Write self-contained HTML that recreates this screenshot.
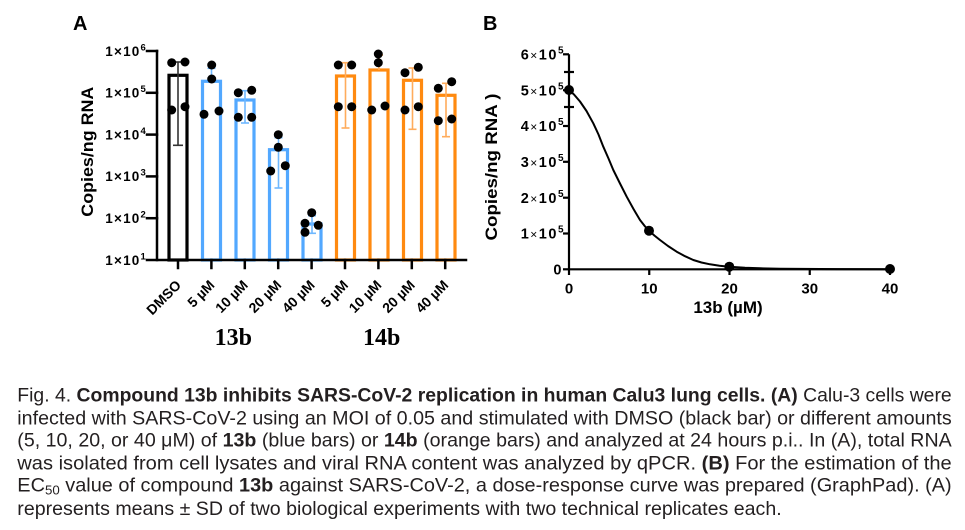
<!DOCTYPE html>
<html>
<head>
<meta charset="utf-8">
<style>
  html,body{margin:0;padding:0;background:#fff;}
  body{width:965px;height:530px;position:relative;overflow:hidden;}
  svg{position:absolute;left:0;top:0;}
</style>
</head>
<body>
<svg width="965" height="530" viewBox="0 0 965 530" xmlns="http://www.w3.org/2000/svg" font-family="Liberation Sans, Arial, sans-serif">
  <!-- Panel labels -->
  <text x="73" y="30" font-size="20" font-weight="bold" fill="#000">A</text>
  <text x="483" y="30" font-size="20" font-weight="bold" fill="#000">B</text>

  <!-- ===== Panel A ===== -->
  <text transform="translate(93,151.7) rotate(-90)" text-anchor="middle" font-size="16.5" font-weight="bold" textLength="130" lengthAdjust="spacingAndGlyphs">Copies/ng RNA</text>

  <!-- bars -->
  <g fill="#fff" stroke-width="3.2">
    <rect x="169" y="75.3" width="18" height="184.7" stroke="#000"/>
    <rect x="202.5" y="81.3" width="18" height="178.7" stroke="#52a8ff"/>
    <rect x="236" y="100" width="18" height="160" stroke="#52a8ff"/>
    <rect x="269.5" y="149.7" width="18" height="110.3" stroke="#52a8ff"/>
    <rect x="303" y="224" width="18" height="36" stroke="#52a8ff"/>
    <rect x="336.5" y="76" width="18" height="184" stroke="#ff8a10"/>
    <rect x="370" y="70" width="18" height="190" stroke="#ff8a10"/>
    <rect x="403.5" y="80.3" width="18" height="179.7" stroke="#ff8a10"/>
    <rect x="437" y="95.3" width="18" height="164.7" stroke="#ff8a10"/>
  </g>

  <!-- error bars -->
  <g stroke-width="1.6" fill="none">
    <g stroke="#333">
      <line x1="178" y1="62" x2="178" y2="145.3"/>
      <line x1="173" y1="62" x2="183" y2="62"/>
      <line x1="173" y1="145.3" x2="183" y2="145.3"/>
    </g>
    <g stroke="#6fb8ff">
      <line x1="211.5" y1="68.3" x2="211.5" y2="81"/>
      <line x1="207.5" y1="68.3" x2="215.5" y2="68.3"/>

      <line x1="245" y1="90.7" x2="245" y2="123"/>
      <line x1="241" y1="90.7" x2="249" y2="90.7"/>
      <line x1="241" y1="123" x2="249" y2="123"/>

      <line x1="278.5" y1="137.7" x2="278.5" y2="188"/>
      <line x1="274.5" y1="137.7" x2="282.5" y2="137.7"/>
      <line x1="274.5" y1="188" x2="282.5" y2="188"/>

      <line x1="312" y1="215.7" x2="312" y2="233.3"/>
      <line x1="308" y1="215.7" x2="316" y2="215.7"/>
      <line x1="308" y1="233.3" x2="316" y2="233.3"/>
    </g>
    <g stroke="#ffac5c">
      <line x1="345.5" y1="62.7" x2="345.5" y2="128"/>
      <line x1="341.5" y1="62.7" x2="349.5" y2="62.7"/>
      <line x1="341.5" y1="128" x2="349.5" y2="128"/>

      <line x1="379" y1="55" x2="379" y2="70"/>
      <line x1="375" y1="55" x2="383" y2="55"/>

      <line x1="412.5" y1="68" x2="412.5" y2="129.3"/>
      <line x1="408.5" y1="68" x2="416.5" y2="68"/>
      <line x1="408.5" y1="129.3" x2="416.5" y2="129.3"/>

      <line x1="446" y1="83.3" x2="446" y2="136.7"/>
      <line x1="442" y1="83.3" x2="450" y2="83.3"/>
      <line x1="442" y1="136.7" x2="450" y2="136.7"/>
    </g>
  </g>

  <!-- dots -->
  <g fill="#000">
    <circle cx="171.7" cy="62.7" r="4.5"/><circle cx="185" cy="62" r="4.5"/><circle cx="171.7" cy="110" r="4.5"/><circle cx="185" cy="106.7" r="4.5"/>
    <circle cx="211.7" cy="65" r="4.5"/><circle cx="211.7" cy="79" r="4.5"/><circle cx="204" cy="114.3" r="4.5"/><circle cx="219" cy="111" r="4.5"/>
    <circle cx="238.3" cy="92.7" r="4.5"/><circle cx="251.7" cy="90.3" r="4.5"/><circle cx="238.3" cy="117.3" r="4.5"/><circle cx="251.7" cy="117.3" r="4.5"/>
    <circle cx="278.3" cy="134.7" r="4.5"/><circle cx="278.3" cy="147.3" r="4.5"/><circle cx="270.7" cy="171" r="4.5"/><circle cx="285.3" cy="165.7" r="4.5"/>
    <circle cx="311.7" cy="212.7" r="4.5"/><circle cx="305" cy="223.3" r="4.5"/><circle cx="318.3" cy="225.3" r="4.5"/><circle cx="305" cy="232.3" r="4.5"/>
    <circle cx="338.3" cy="65" r="4.5"/><circle cx="351.7" cy="65" r="4.5"/><circle cx="338.3" cy="106.7" r="4.5"/><circle cx="351.7" cy="106.7" r="4.5"/>
    <circle cx="378.3" cy="54" r="4.5"/><circle cx="378.3" cy="62.7" r="4.5"/><circle cx="371.7" cy="110" r="4.5"/><circle cx="385" cy="106" r="4.5"/>
    <circle cx="405" cy="72.7" r="4.5"/><circle cx="418.3" cy="67.3" r="4.5"/><circle cx="405" cy="110" r="4.5"/><circle cx="418.3" cy="106.7" r="4.5"/>
    <circle cx="438.3" cy="88.3" r="4.5"/><circle cx="451.7" cy="81.7" r="4.5"/><circle cx="438.3" cy="120.7" r="4.5"/><circle cx="451.7" cy="119" r="4.5"/>
  </g>

  <!-- axes A -->
  <g stroke="#000" stroke-width="2.5" fill="none" stroke-linecap="square">
    <line x1="157" y1="51" x2="157" y2="260"/>
    <line x1="147" y1="260" x2="466" y2="260"/>
    <line x1="147" y1="51" x2="157" y2="51"/>
    <line x1="147" y1="92.8" x2="157" y2="92.8"/>
    <line x1="147" y1="134.6" x2="157" y2="134.6"/>
    <line x1="147" y1="176.4" x2="157" y2="176.4"/>
    <line x1="147" y1="218.2" x2="157" y2="218.2"/>
    <line x1="178" y1="260" x2="178" y2="268"/>
    <line x1="211.4" y1="260" x2="211.4" y2="268"/>
    <line x1="244.8" y1="260" x2="244.8" y2="268"/>
    <line x1="278.2" y1="260" x2="278.2" y2="268"/>
    <line x1="311.6" y1="260" x2="311.6" y2="268"/>
    <line x1="345" y1="260" x2="345" y2="268"/>
    <line x1="378.4" y1="260" x2="378.4" y2="268"/>
    <line x1="411.8" y1="260" x2="411.8" y2="268"/>
    <line x1="445.2" y1="260" x2="445.2" y2="268"/>
  </g>

  <!-- y tick labels A -->
  <g font-size="13.5" font-weight="bold" text-anchor="end" letter-spacing="1.2">
    <text x="147" y="55.8">1×10<tspan dy="-5.5" font-size="9.5">6</tspan></text>
    <text x="147" y="97.6">1×10<tspan dy="-5.5" font-size="9.5">5</tspan></text>
    <text x="147" y="139.4">1×10<tspan dy="-5.5" font-size="9.5">4</tspan></text>
    <text x="147" y="181.2">1×10<tspan dy="-5.5" font-size="9.5">3</tspan></text>
    <text x="147" y="223">1×10<tspan dy="-5.5" font-size="9.5">2</tspan></text>
    <text x="147" y="264.8">1×10<tspan dy="-5.5" font-size="9.5">1</tspan></text>
  </g>

  <!-- x labels A -->
  <g font-size="14" font-weight="bold" text-anchor="end">
    <text transform="translate(182,286) rotate(-45)">DMSO</text>
    <text transform="translate(215.4,286) rotate(-45)">5 µM</text>
    <text transform="translate(248.8,286) rotate(-45)">10 µM</text>
    <text transform="translate(282.2,286) rotate(-45)">20 µM</text>
    <text transform="translate(315.6,286) rotate(-45)">40 µM</text>
    <text transform="translate(349,286) rotate(-45)">5 µM</text>
    <text transform="translate(382.4,286) rotate(-45)">10 µM</text>
    <text transform="translate(415.8,286) rotate(-45)">20 µM</text>
    <text transform="translate(449.2,286) rotate(-45)">40 µM</text>
  </g>
  <g font-family="Liberation Serif, Times New Roman, serif" font-size="24" font-weight="bold" text-anchor="middle">
    <text x="233.3" y="345">13b</text>
    <text x="381.7" y="345">14b</text>
  </g>

  <!-- ===== Panel B ===== -->
  <text transform="translate(497,167) rotate(-90)" text-anchor="middle" font-size="16.5" font-weight="bold" textLength="147" lengthAdjust="spacingAndGlyphs">Copies/ng RNA )</text>

  <g stroke="#000" stroke-width="2.2" fill="none">
    <line x1="569" y1="54.3" x2="569" y2="269.3"/>
    <line x1="569" y1="269.3" x2="891" y2="269.3"/>
    <line x1="563" y1="54.3" x2="569" y2="54.3"/>
    <line x1="563" y1="90.2" x2="569" y2="90.2"/>
    <line x1="563" y1="126" x2="569" y2="126"/>
    <line x1="563" y1="161.8" x2="569" y2="161.8"/>
    <line x1="563" y1="197.7" x2="569" y2="197.7"/>
    <line x1="563" y1="233.5" x2="569" y2="233.5"/>
    <line x1="563" y1="269.3" x2="569" y2="269.3"/>
    <line x1="569" y1="269.3" x2="569" y2="275"/>
    <line x1="649.25" y1="269.3" x2="649.25" y2="275"/>
    <line x1="729.5" y1="269.3" x2="729.5" y2="275"/>
    <line x1="809.75" y1="269.3" x2="809.75" y2="275"/>
    <line x1="890" y1="269.3" x2="890" y2="275"/>
    <line x1="564" y1="72" x2="574" y2="72"/>
    <line x1="564" y1="107" x2="574" y2="107"/>
  </g>

  <!-- curve -->
  <polyline fill="none" stroke="#000" stroke-width="2" stroke-linejoin="round" points="569,90 574,94.5 580,101.5 586.5,111 593.3,123.3 598.5,134.5 603.3,146.7 608.5,158.5 613.3,170 620,183.5 626.7,196.7 633.5,209 640,220 644.5,225.8 649,230.7 654.5,235.6 660,240 668,246 676.7,251.7 685,256.2 693.3,260 701.5,262.5 710,264.3 719.5,265.7 729.3,266.7 745,267.7 760,268.3 780,268.7 800,268.9 840,269.1 890,269.2"/>

  <g fill="#000">
    <circle cx="569" cy="90" r="5"/>
    <circle cx="649" cy="230.7" r="5"/>
    <circle cx="729.3" cy="266.7" r="5"/>
    <circle cx="890" cy="269" r="5"/>
  </g>

  <!-- y tick labels B -->
  <g font-size="14.5" font-weight="bold" text-anchor="end" letter-spacing="1.5">
    <text x="565" y="59.5">6<tspan font-weight="normal" font-size="12">×</tspan>10<tspan dy="-6" font-size="10">5</tspan></text>
    <text x="565" y="95.4">5<tspan font-weight="normal" font-size="12">×</tspan>10<tspan dy="-6" font-size="10">5</tspan></text>
    <text x="565" y="131.2">4<tspan font-weight="normal" font-size="12">×</tspan>10<tspan dy="-6" font-size="10">5</tspan></text>
    <text x="565" y="167">3<tspan font-weight="normal" font-size="12">×</tspan>10<tspan dy="-6" font-size="10">5</tspan></text>
    <text x="565" y="202.9">2<tspan font-weight="normal" font-size="12">×</tspan>10<tspan dy="-6" font-size="10">5</tspan></text>
    <text x="565" y="238.7">1<tspan font-weight="normal" font-size="12">×</tspan>10<tspan dy="-6" font-size="10">5</tspan></text>
    <text x="563" y="274.5">0</text>
  </g>

  <!-- x tick labels B -->
  <g font-size="15" font-weight="bold" text-anchor="middle">
    <text x="569" y="293.3">0</text>
    <text x="649.25" y="293.3">10</text>
    <text x="729.5" y="293.3">20</text>
    <text x="809.75" y="293.3">30</text>
    <text x="890" y="293.3">40</text>
  </g>
  <text x="728" y="313" font-size="17" font-weight="bold" text-anchor="middle">13b (µM)</text>

  <!-- ===== Caption ===== -->
  <g font-size="19.5" fill="#231f20">
    <text x="17.3" y="401.7" textLength="934.4" lengthAdjust="spacingAndGlyphs">Fig. 4. <tspan font-weight="bold">Compound 13b inhibits SARS-CoV-2 replication in human Calu3 lung cells.</tspan> <tspan font-weight="bold">(A)</tspan> Calu-3 cells were</text>
    <text x="17.3" y="424.3" textLength="934.4" lengthAdjust="spacingAndGlyphs">infected with SARS-CoV-2 using an MOI of 0.05 and stimulated with DMSO (black bar) or different amounts</text>
    <text x="17.3" y="446.7" textLength="934.4" lengthAdjust="spacingAndGlyphs">(5, 10, 20, or 40 μM) of <tspan font-weight="bold">13b</tspan> (blue bars) or <tspan font-weight="bold">14b</tspan> (orange bars) and analyzed at 24 hours p.i.. In (A), total RNA</text>
    <text x="17.3" y="469.3" textLength="934.4" lengthAdjust="spacingAndGlyphs">was isolated from cell lysates and viral RNA content was analyzed by qPCR. <tspan font-weight="bold">(B)</tspan> For the estimation of the</text>
    <text x="17.3" y="491.7" textLength="934.4" lengthAdjust="spacingAndGlyphs">EC<tspan font-size="13" dy="3">50</tspan><tspan dy="-3"> value of compound </tspan><tspan font-weight="bold">13b</tspan> against SARS-CoV-2, a dose-response curve was prepared (GraphPad). (A)</text>
    <text x="17.3" y="515" textLength="764.4" lengthAdjust="spacingAndGlyphs">represents means ± SD of two biological experiments with two technical replicates each.</text>
  </g>
</svg>
</body>
</html>
